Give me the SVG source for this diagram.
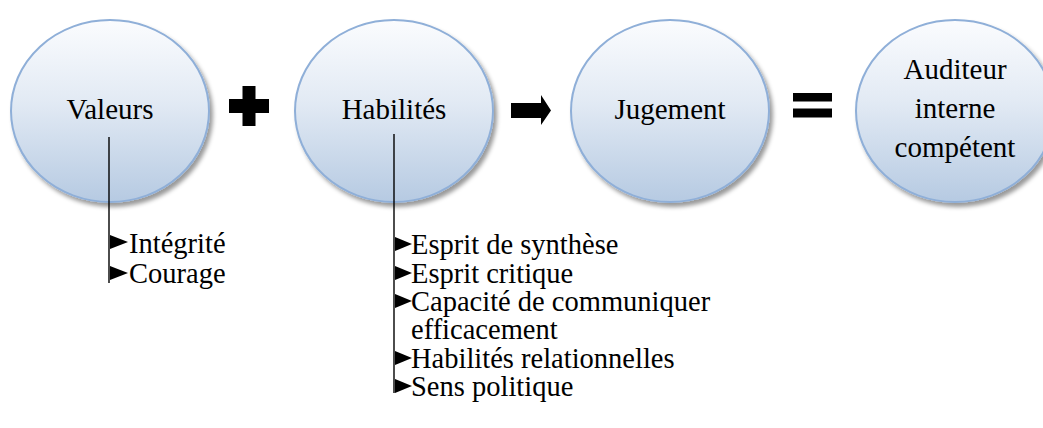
<svg xmlns="http://www.w3.org/2000/svg" width="1043" height="428" viewBox="0 0 1043 428">
  <defs>
    <linearGradient id="bubbleFill" x1="0" y1="0" x2="0" y2="1">
      <stop offset="0" stop-color="#fbfcfe"/>
      <stop offset="0.45" stop-color="#e2eaf4"/>
      <stop offset="1" stop-color="#b6cae2"/>
    </linearGradient>
    <filter id="softShadow" x="-10%" y="-10%" width="125%" height="125%">
      <feGaussianBlur in="SourceAlpha" stdDeviation="2"/>
      <feOffset dx="3" dy="4" result="blur"/>
      <feFlood flood-color="#000" flood-opacity="0.4"/>
      <feComposite in2="blur" operator="in"/>
      <feMerge>
        <feMergeNode/>
        <feMergeNode in="SourceGraphic"/>
      </feMerge>
    </filter>
  </defs>
  <style>
    .bubble { fill: url(#bubbleFill); stroke: #8fafd8; stroke-width: 2; filter: url(#softShadow); }
    .title { font-family: "Liberation Serif", "Times New Roman", Times, serif; font-size: 29px; fill: #000; text-anchor: middle; }
    .item { font-family: "Liberation Serif", "Times New Roman", Times, serif; font-size: 28.5px; fill: #000; }
    .stem { stroke: #000; stroke-width: 1.4; fill: none; }
    .bullet { fill: #000; }
    .op { fill: #000; }
  </style>

  <rect width="1043" height="428" fill="#fff"/>

  <!-- Nodes -->
  <g id="node-valeurs">
    <ellipse class="bubble" cx="110" cy="111" rx="99" ry="91"/>
    <text class="title" x="110" y="119">Valeurs</text>
  </g>

  <g id="node-habilites">
    <ellipse class="bubble" cx="394" cy="111" rx="99" ry="91"/>
    <text class="title" x="394" y="119">Habilités</text>
  </g>

  <g id="node-jugement">
    <ellipse class="bubble" cx="670" cy="111" rx="99" ry="91"/>
    <text class="title" x="670" y="119">Jugement</text>
  </g>

  <g id="node-auditeur">
    <ellipse class="bubble" cx="955" cy="111" rx="99" ry="91"/>
    <text class="title" x="955" y="79">Auditeur</text>
    <text class="title" x="955" y="118">interne</text>
    <text class="title" x="955" y="157">compétent</text>
  </g>

  <!-- Operators between the bubbles -->
  <g id="op-plus">
    <rect class="op" x="229" y="99" width="40" height="14"/>
    <rect class="op" x="242.5" y="86" width="13" height="40"/>
  </g>
  <g id="op-arrow">
    <path class="op" d="M511,103 H541 V95 L551,110.5 L541,125 V118 H511 Z"/>
  </g>
  <g id="op-equals">
    <rect class="op" x="793" y="93" width="39" height="8.5"/>
    <rect class="op" x="793" y="108.5" width="39" height="9"/>
  </g>

  <!-- Connectors: stems dropping from the bubbles, with bullet arrows -->
  <g id="connectors">
    <line class="stem" x1="109" y1="137" x2="109" y2="283"/>
    <path class="bullet" d="M110,235 L128,242 L110,249 Z"/>
    <path class="bullet" d="M110,266 L128,273 L110,280 Z"/>

    <line class="stem" x1="394" y1="134" x2="394" y2="393"/>
    <path class="bullet" d="M395,237 L412,244 L395,251 Z"/>
    <path class="bullet" d="M395,266 L412,273 L395,280 Z"/>
    <path class="bullet" d="M395,294 L412,301 L395,308 Z"/>
    <path class="bullet" d="M395,351 L412,358 L395,365 Z"/>
    <path class="bullet" d="M395,379 L412,386 L395,393 Z"/>
  </g>

  <!-- Item lists -->
  <g id="list-valeurs">
    <text class="item" x="129" y="253">Intégrité</text>
    <text class="item" x="129" y="283">Courage</text>
  </g>
  <g id="list-habilites">
    <text class="item" x="411" y="254">Esprit de synthèse</text>
    <text class="item" x="411" y="283">Esprit critique</text>
    <text class="item" x="411" y="311">Capacité de communiquer</text>
    <text class="item" x="411" y="339">efficacement</text>
    <text class="item" x="411" y="368">Habilités relationnelles</text>
    <text class="item" x="411" y="396">Sens politique</text>
  </g>
</svg>
